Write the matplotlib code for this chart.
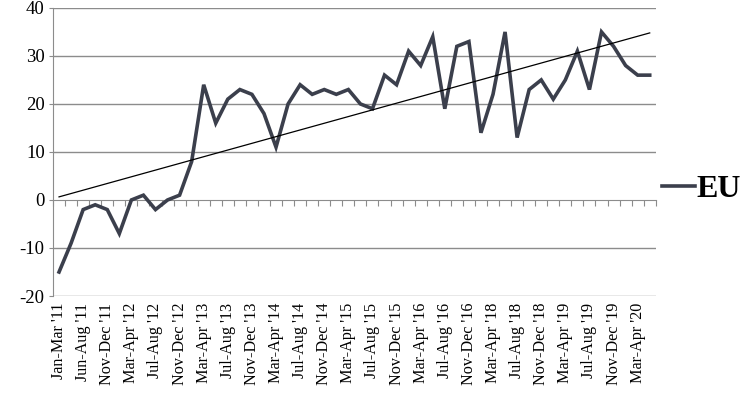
import numpy as np
import matplotlib
matplotlib.use("Agg")
import matplotlib.pyplot as plt

# tick labels shown on every second category
labels = ["Jan-Mar '11", "Jun-Aug '11", "Nov-Dec '11", "Mar-Apr '12", "Jul-Aug '12",
          "Nov-Dec '12", "Mar-Apr '13", "Jul-Aug '13", "Nov-Dec '13", "Mar-Apr '14",
          "Jul-Aug '14", "Nov-Dec '14", "Mar-Apr '15", "Jul-Aug '15", "Nov-Dec '15",
          "Mar-Apr '16", "Jul-Aug '16", "Nov-Dec '16", "Mar-Apr '18", "Jul-Aug '18",
          "Nov-Dec '18", "Mar-Apr '19", "Jul-Aug '19", "Nov-Dec '19", "Mar-Apr '20"]

# EU balance values, 50 periods
eu = [-15, -9, -2, -1, -2, -7, 0, 1, -2, 0,
      1, 8, 24, 16, 21, 23, 22, 18, 11, 20,
      24, 22, 23, 22, 23, 20, 19, 26, 24, 31,
      28, 34, 19, 32, 33, 14, 22, 35, 13, 23,
      25, 21, 25, 31, 23, 35, 32, 28, 26, 26]

plt.rcParams['font.family'] = ['Liberation Serif', 'DejaVu Serif']
plt.rcParams['axes.unicode_minus'] = False

x = np.arange(len(eu))
fig = plt.figure(figsize=(7.52, 3.96), dpi=100)
ax = fig.add_axes([0.0705, 0.2525, 0.8015, 0.7275])

grid_c = '#8c8c8c'
for v in [-20, -10, 10, 20, 30, 40]:
    ax.axhline(v, color=grid_c, lw=1, zorder=1)

line, = ax.plot(x, eu, color='#3b3f4c', lw=2.6, zorder=3, solid_joinstyle='miter')

# linear trend line
k, b = np.polyfit(x, eu, 1)
ax.plot(x, k * x + b, color='black', lw=0.9, zorder=4)

ax.set_xlim(-0.5, len(eu) - 0.5)
ax.set_ylim(-20, 40)
ax.set_yticks(range(-20, 41, 10))
ax.tick_params(axis='y', length=3, color=grid_c, labelsize=13.5, pad=3)

for s in ['top', 'right']:
    ax.spines[s].set_visible(False)
ax.spines['left'].set_color(grid_c)
ax.spines['bottom'].set_position(('data', 0))
ax.spines['bottom'].set_color(grid_c)
ax.set_xticks(np.arange(-0.5, len(eu), 1))
ax.tick_params(axis='x', length=4, color=grid_c, labelbottom=False)

# category labels at the bottom of the plot
sec = ax.secondary_xaxis('bottom')
sec.set_xticks(x[::2])
sec.set_xticklabels(labels, rotation=90, fontsize=11.6)
sec.tick_params(length=0, pad=5)
sec.spines['bottom'].set_visible(False)

leg = fig.legend([line], ['EU'], loc='center left', bbox_to_anchor=(0.880, 0.522),
                 frameon=False, handlelength=1.05, handletextpad=0.05,
                 borderpad=0, borderaxespad=0,
                 prop={'weight': 'bold', 'size': 23})

fig.savefig('out.png', dpi=100)
